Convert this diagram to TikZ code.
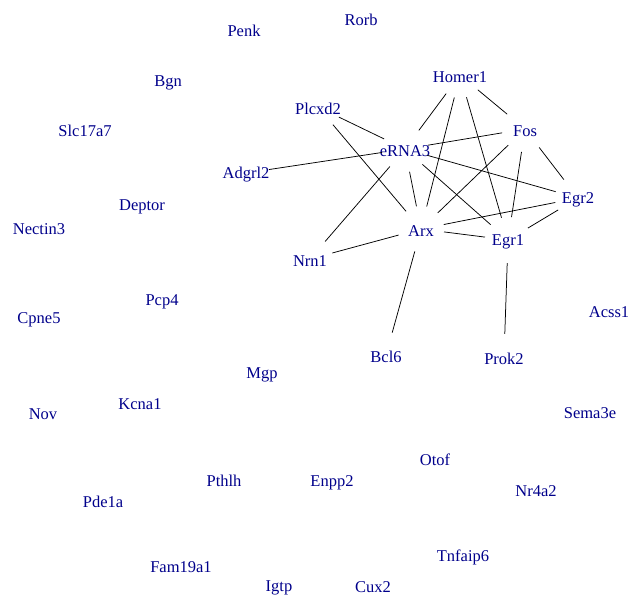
\documentclass[tikz,border=0pt]{standalone}
\usepackage{fontspec}
\setmainfont{Liberation Serif}
\definecolor{lbl}{RGB}{0,0,139}
\begin{document}
\begin{tikzpicture}[x=1pt,y=-1pt,
  vtx/.style={circle,inner sep=0pt,minimum size=46pt},
  every label/.style={text=lbl,font=\fontsize{16.5}{18}\selectfont,inner sep=0pt,yshift=-2pt},
  edge/.style={draw=black,line width=0.75pt}]
\useasboundingbox (0,0) rectangle (628,598);
\node[vtx,label=center:Rorb] (rorb) at (361,18) {};
\node[vtx,label=center:Penk] (penk) at (244,29) {};
\node[vtx,label=center:Homer1] (homer1) at (460,75) {};
\node[vtx,label=center:Bgn] (bgn) at (168,81) {};
\node[vtx,label=center:Plcxd2] (plcxd2) at (318,107) {};
\node[vtx,label=center:Fos] (fos) at (525,129) {};
\node[vtx,label=center:Slc17a7] (slc) at (85,129) {};
\node[vtx,label=center:eRNA3] (erna3) at (405,149) {};
\node[vtx,label=center:Adgrl2] (adgrl2) at (246,173) {};
\node[vtx,label=center:Egr2] (egr2) at (578,198) {};
\node[vtx,label=center:Deptor] (deptor) at (142,205) {};
\node[vtx,label=center:Nectin3] (nectin3) at (39,227) {};
\node[vtx,label=center:Arx] (arx) at (421,229) {};
\node[vtx,label=center:Egr1] (egr1) at (508,240) {};
\node[vtx,label=center:Nrn1] (nrn1) at (310,259) {};
\node[vtx,label=center:Pcp4] (pcp4) at (162,300) {};
\node[vtx,label=center:Cpne5] (cpne5) at (39,318) {};
\node[vtx,label=center:Acss1] (acss1) at (609,310) {};
\node[vtx,label=center:Bcl6] (bcl6) at (386,355) {};
\node[vtx,label=center:Prok2] (prok2) at (504,357) {};
\node[vtx,label=center:Mgp] (mgp) at (262,373) {};
\node[vtx,label=center:Kcna1] (kcna1) at (140,402) {};
\node[vtx,label=center:Nov] (nov) at (43,412) {};
\node[vtx,label=center:Sema3e] (sema3e) at (590,411) {};
\node[vtx,label=center:Otof] (otof) at (435,458) {};
\node[vtx,label=center:Pthlh] (pthlh) at (224,479) {};
\node[vtx,label=center:Enpp2] (enpp2) at (332,481) {};
\node[vtx,label=center:Nr4a2] (nr4a2) at (536,489) {};
\node[vtx,label=center:Pde1a] (pde1a) at (103,500) {};
\node[vtx,label=center:Tnfaip6] (tnfaip6) at (463,555) {};
\node[vtx,label=center:Fam19a1] (fam19a1) at (181,565) {};
\node[vtx,label=center:Igtp] (igtp) at (279,586) {};
\node[vtx,label=center:Cux2] (cux2) at (373,585) {};
\foreach \a/\b in {homer1/erna3,homer1/arx,homer1/egr1,homer1/fos,
  plcxd2/erna3,plcxd2/arx,adgrl2/erna3,erna3/fos,erna3/nrn1,erna3/arx,
  erna3/egr1,erna3/egr2,fos/arx,fos/egr1,fos/egr2,egr2/arx,egr2/egr1,
  arx/egr1,arx/nrn1,arx/bcl6,egr1/prok2}
  \draw[edge] (\a) -- (\b);
\end{tikzpicture}
\end{document}
